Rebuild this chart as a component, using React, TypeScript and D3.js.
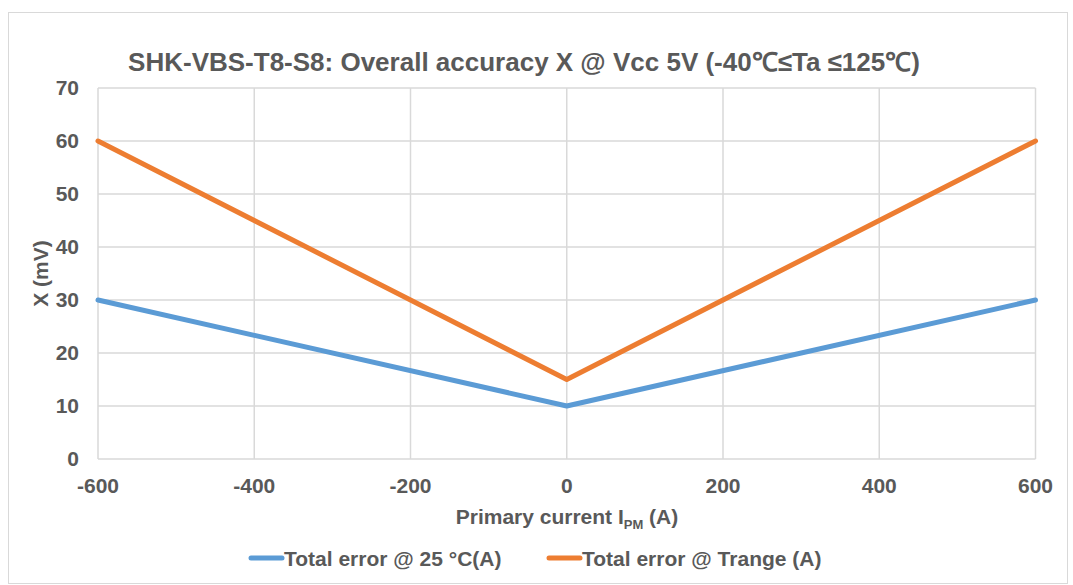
import React, { useEffect, useRef } from "react";
import * as d3 from "d3";

const currents = [-600, 0, 600];
const error25 = [30, 10, 30];
const errorTrange = [60, 15, 60];
const seriesNames = ["Total error @ 25 °C(A)", "Total error @ Trange (A)"];
const seriesColors = ["#5B9BD5", "#ED7D31"];
const xTicks = [-600, -400, -200, 0, 200, 400, 600];
const yTicks = [0, 10, 20, 30, 40, 50, 60, 70];

const W = 1073;
const H = 585;
const FONT = "'Liberation Sans', Arial, sans-serif";
const TEXT = "#595959";
const LABEL = 21;

export default function App() {
  const ref = useRef<SVGSVGElement>(null);

  useEffect(() => {
    const svg = d3.select(ref.current);
    svg.selectAll("*").remove();

    const margin = { left: 98, right: W - 1035.5, top: 88, bottom: H - 459 };

    const x = d3.scaleLinear().domain([-600, 600]).range([margin.left, W - margin.right]);
    const y = d3.scaleLinear().domain([0, 70]).range([H - margin.bottom, margin.top]);

    // outer border
    svg.append("rect")
      .attr("x", 8.5).attr("y", 12.5)
      .attr("width", 1059).attr("height", 571)
      .attr("fill", "#fff").attr("stroke", "#d9d9d9").attr("stroke-width", 1);

    // title
    svg.append("text")
      .attr("x", 524).attr("y", 71)
      .attr("text-anchor", "middle")
      .attr("font-family", FONT).attr("font-weight", "bold").attr("font-size", 26)
      .attr("fill", TEXT)
      .text("SHK-VBS-T8-S8: Overall accuracy X @ Vcc 5V (-40℃≤Ta ≤125℃)");

    // grid
    const grid = svg.append("g").attr("stroke", "#d9d9d9").attr("stroke-width", 1.5);
    grid.selectAll(".h").data(yTicks).enter().append("line")
      .attr("x1", x(-600)).attr("x2", x(600))
      .attr("y1", d => y(d)).attr("y2", d => y(d));
    grid.selectAll(".v").data(xTicks).enter().append("line")
      .attr("y1", y(0)).attr("y2", y(70))
      .attr("x1", d => x(d)).attr("x2", d => x(d));

    // tick labels
    svg.append("g").selectAll("text").data(yTicks).enter().append("text")
      .attr("x", 79).attr("y", d => y(d) + 7)
      .attr("text-anchor", "end")
      .attr("font-family", FONT).attr("font-weight", "bold").attr("font-size", LABEL)
      .attr("fill", TEXT)
      .text(d => d);

    svg.append("g").selectAll("text").data(xTicks).enter().append("text")
      .attr("x", d => x(d)).attr("y", 493)
      .attr("text-anchor", "middle")
      .attr("font-family", FONT).attr("font-weight", "bold").attr("font-size", LABEL)
      .attr("fill", TEXT)
      .text(d => d);

    // axis titles
    const xt = svg.append("text")
      .attr("x", 567).attr("y", 524)
      .attr("text-anchor", "middle")
      .attr("font-family", FONT).attr("font-weight", "bold").attr("font-size", LABEL)
      .attr("fill", TEXT);
    xt.append("tspan").text("Primary current I");
    xt.append("tspan").attr("font-size", 13).attr("dy", 5).text("PM");
    xt.append("tspan").attr("dy", -5).text(" (A)");

    svg.append("text")
      .attr("transform", `translate(48, ${y(35)}) rotate(-90)`)
      .attr("text-anchor", "middle")
      .attr("font-family", FONT).attr("font-weight", "bold").attr("font-size", LABEL)
      .attr("fill", TEXT)
      .text("X (mV)");

    // lines
    const series = [error25, errorTrange];
    const line = d3.line<number>()
      .x((_, i) => x(currents[i]))
      .y(d => y(d));

    series.forEach((vals, i) => {
      svg.append("path")
        .datum(vals)
        .attr("d", line)
        .attr("fill", "none")
        .attr("stroke", seriesColors[i])
        .attr("stroke-width", 5)
        .attr("stroke-linejoin", "round")
        .attr("stroke-linecap", "round");
    });

    // legend
    const legendX = [251, 549];
    seriesNames.forEach((name, i) => {
      const g = svg.append("g").attr("transform", `translate(${legendX[i]}, 558)`);
      g.append("line")
        .attr("x1", 0).attr("x2", 31).attr("y1", 0).attr("y2", 0)
        .attr("stroke", seriesColors[i]).attr("stroke-width", 5)
        .attr("stroke-linecap", "round");
      g.append("text")
        .attr("x", 33).attr("y", 7.5)
        .attr("font-family", FONT).attr("font-weight", "bold").attr("font-size", LABEL)
        .attr("fill", TEXT)
        .text(name);
    });
  }, []);

  return (
    <svg
      ref={ref}
      width={W}
      height={H}
      style={{ position: "absolute", left: 0, top: 0, display: "block" }}
    />
  );
}
